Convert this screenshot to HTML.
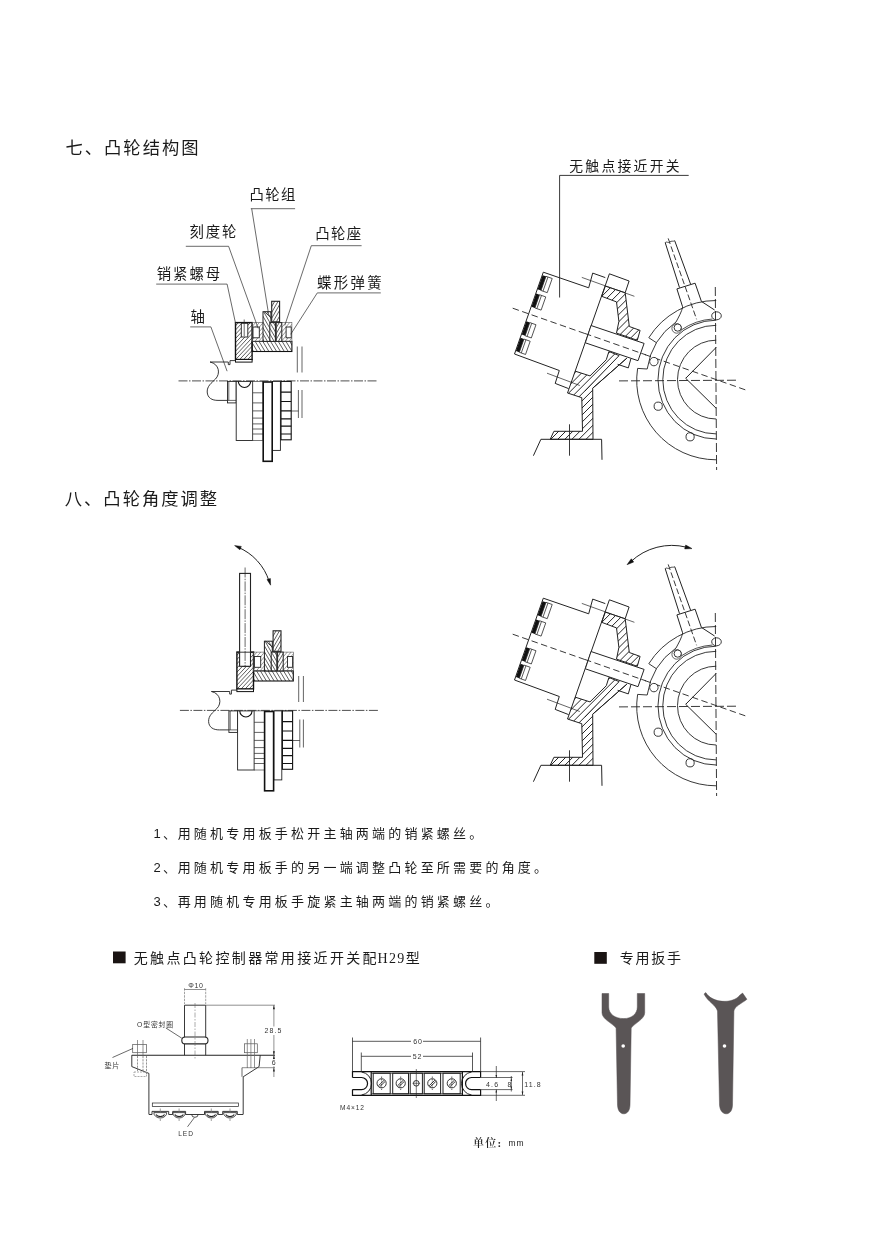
<!DOCTYPE html>
<html lang="zh">
<head>
<meta charset="utf-8">
<title>凸轮结构图</title>
<style>
html,body{margin:0;padding:0;background:#fff;}
body{width:880px;height:1243px;overflow:hidden;position:relative;}
svg{position:absolute;left:0;top:0;display:block;will-change:transform;}
text{font-family:"Liberation Sans","Noto Sans CJK SC",sans-serif;fill:#1a1a1a;}
.h1{font-size:17.3px;letter-spacing:2px;}
.lb{font-size:14.4px;letter-spacing:1.4px;}
.p{font-size:13px;letter-spacing:3.2px;}
.s{font-size:6.5px;letter-spacing:0.6px;fill:#333;}
.ln{stroke:#222;stroke-width:0.9;}
.th{stroke:#2a2a2a;stroke-width:0.7;}
.bd{stroke:#111;stroke-width:1.4;}
</style>
</head>
<body>
<svg width="880" height="1243" viewBox="0 0 880 1243" fill="none">
<defs>
</defs>

<!-- ===== headings ===== -->
<g id="headings">
<text class="h1" x="65.5" y="153.5">七、凸轮结构图</text>
<text class="h1" x="64.8" y="505">八、凸轮角度调整</text>
</g>

<!-- ===== instructions ===== -->
<g id="steps">
<text class="p" x="153.5" y="837.8">1<tspan dx="-1">、</tspan><tspan dx="-1.5">用</tspan>随机专用板手松开主轴两端的销紧螺丝。</text>
<text class="p" x="153.5" y="872">2<tspan dx="-1">、</tspan><tspan dx="-1.5">用</tspan>随机专用板手的另一端调整凸轮至所需要的角度。</text>
<text class="p" x="153.5" y="906">3<tspan dx="-1">、</tspan><tspan dx="-1.5">再</tspan>用随机专用板手旋紧主轴两端的销紧螺丝。</text>
</g>

<!--CAM1-->
<g id="camdef">
 <!-- centre line -->
 <line x1="178.5" y1="380.9" x2="378" y2="380.9" stroke="#222" stroke-width="0.8" stroke-dasharray="9 1.5 1.5 1.5"/>
 <!-- upper half section : locking nut -->
 <clipPath id="hc1"><rect x="235.5" y="322.6" width="16.6" height="36.9"/></clipPath><path clip-path="url(#hc1)" d="M213.0 341.4L242.0 310.3M215.1 343.3L244.1 312.3M217.3 345.3L246.2 314.3M219.4 347.3L248.3 316.2M221.5 349.3L250.5 318.2M223.6 351.3L252.6 320.2M225.7 353.2L254.7 322.2M227.9 355.2L256.8 324.2M230.0 357.2L258.9 326.1M232.1 359.2L261.1 328.1M234.2 361.1L263.2 330.1M236.3 363.1L265.3 332.1M238.5 365.1L267.4 334.0M240.6 367.1L269.5 336.0M242.7 369.1L271.7 338.0M244.8 371.0L273.8 340.0M246.9 373.0L275.9 342.0" stroke="#1a1a1a" stroke-width="0.7"/><rect x="235.5" y="322.6" width="16.6" height="36.9" class="bd"/>
 <rect x="235.5" y="359.5" width="16.6" height="2.6" fill="#fff" class="bd" style="stroke-width:1"/>
 <rect x="241.3" y="323.3" width="6.5" height="13.7" fill="#fff" class="ln"/>
 <line x1="244.2" y1="319.5" x2="244.2" y2="336" class="th"/>
 <!-- cam seat -->
 <clipPath id="hc2"><rect x="252.1" y="341.4" width="39.8" height="10.1"/></clipPath><path clip-path="url(#hc2)" d="M281.9 315.4L304.1 352.3M279.1 317.1L301.2 354.0M276.2 318.8L298.4 355.7M273.4 320.5L295.6 357.4M270.6 322.2L292.8 359.1M267.8 323.9L289.9 360.8M264.9 325.6L287.1 362.5M262.1 327.3L284.3 364.2M259.3 329.0L281.4 365.9M256.4 330.7L278.6 367.6M253.6 332.4L275.8 369.3M250.8 334.1L273.0 371.0M248.0 335.8L270.1 372.7M245.1 337.5L267.3 374.4M242.3 339.2L264.5 376.1" stroke="#1a1a1a" stroke-width="0.7"/><rect x="252.1" y="341.4" width="39.8" height="10.1" class="bd" style="stroke-width:1.1"/>
 <clipPath id="hc3"><rect x="252.1" y="322.6" width="39.8" height="18.8"/></clipPath><path clip-path="url(#hc3)" d="M238.5 333.9L268.0 298.6M240.7 335.8L270.3 300.5M242.9 337.6L272.5 302.4M245.1 339.5L274.7 304.2M247.4 341.4L276.9 306.1M249.6 343.2L279.2 308.0M251.8 345.1L281.4 309.8M254.0 346.9L283.6 311.7M256.2 348.8L285.8 313.6M258.5 350.7L288.0 315.4M260.7 352.5L290.3 317.3M262.9 354.4L292.5 319.2M265.1 356.3L294.7 321.0M267.3 358.1L296.9 322.9M269.6 360.0L299.1 324.7M271.8 361.9L301.4 326.6M274.0 363.7L303.6 328.5M276.2 365.6L305.8 330.3" stroke="#444" stroke-width="0.55"/><rect x="252.1" y="322.6" width="39.8" height="18.8" class="ln" style="stroke-width:0.6;stroke:#555"/>
 <rect x="253" y="327" width="6.3" height="10.8" fill="#fff" class="ln"/>
 <rect x="286.1" y="327" width="5.1" height="10.8" fill="#fff" class="ln"/>
 <!-- cams -->
 <rect x="263" y="311.7" width="7.9" height="29.7" fill="#fff"/>
 <clipPath id="hc4"><rect x="263" y="311.7" width="7.9" height="29.7"/></clipPath><path clip-path="url(#hc4)" d="M275.3 302.8L291.7 331.2M272.8 304.3L289.2 332.6M270.3 305.7L286.6 334.1M267.8 307.2L284.1 335.5M265.3 308.6L281.6 337.0M262.7 310.1L279.1 338.4M260.2 311.5L276.6 339.9M257.7 313.0L274.1 341.3M255.2 314.4L271.6 342.8M252.7 315.9L269.1 344.2M250.2 317.3L266.6 345.7M247.7 318.8L264.0 347.1M245.2 320.2L261.5 348.6M242.6 321.7L259.0 350.0" stroke="#1a1a1a" stroke-width="0.7"/><rect x="263" y="311.7" width="7.9" height="29.7" class="ln" style="stroke-width:1"/>
 <line x1="264.4" y1="311.7" x2="270.9" y2="317.5" class="ln"/>
 <rect x="271.7" y="301.3" width="7.9" height="20.5" fill="#fff"/>
 <clipPath id="hc5"><rect x="271.7" y="301.3" width="7.9" height="20.5"/></clipPath><path clip-path="url(#hc5)" d="M257.0 314.6L269.0 293.9M259.5 316.1L271.5 295.3M262.0 317.5L274.0 296.8M264.6 319.0L276.5 298.2M267.1 320.4L279.0 299.7M269.6 321.9L281.6 301.1M272.1 323.3L284.1 302.6M274.6 324.8L286.6 304.0M277.1 326.2L289.1 305.5M279.6 327.7L291.6 306.9M282.1 329.1L294.1 308.4" stroke="#1a1a1a" stroke-width="0.7"/><rect x="271.7" y="301.3" width="7.9" height="20.5" class="ln" style="stroke-width:1.1"/>
 <rect x="269.8" y="322.6" width="5.6" height="18.8" fill="#fff"/>
 <clipPath id="hc6"><rect x="269.8" y="322.6" width="5.6" height="18.8"/></clipPath><path clip-path="url(#hc6)" d="M276.8 317.1L287.6 335.8M274.3 318.5L285.1 337.2M271.8 320.0L282.6 338.7M269.3 321.4L280.1 340.1M266.8 322.9L277.6 341.6M264.3 324.3L275.1 343.0M261.8 325.8L272.6 344.5M259.2 327.2L270.1 345.9M256.7 328.7L267.5 347.4" stroke="#1a1a1a" stroke-width="0.7"/><rect x="269.8" y="322.6" width="5.6" height="18.8" class="ln" style="stroke-width:1"/>
 <rect x="276.2" y="322.6" width="5.6" height="18.8" fill="#fff"/>
 <clipPath id="hc7"><rect x="276.2" y="322.6" width="5.6" height="18.8"/></clipPath><path clip-path="url(#hc7)" d="M262.1 334.7L273.0 316.0M264.7 336.2L275.5 317.5M267.2 337.6L278.0 318.9M269.7 339.1L280.5 320.4M272.2 340.5L283.0 321.8M274.7 342.0L285.5 323.3M277.2 343.4L288.0 324.7M279.7 344.9L290.5 326.2M282.2 346.3L293.0 327.6M284.7 347.8L295.6 329.1" stroke="#1a1a1a" stroke-width="0.7"/><rect x="276.2" y="322.6" width="5.6" height="18.8" class="ln" style="stroke-width:1"/>
 <!-- double lines right -->
 <path d="M297.3 346.5V372.5M302 346.5V372.5M298.4 390V418M302 390V418M291.2 411H298.4" class="ln" style="stroke-width:0.7"/>
 <!-- shaft with break line -->
 <path d="M210 362H228.3V364.6H230V360.6H235.5" class="ln"/>
 <path d="M210 362C219.5 364 220.5 374 215.5 379C211.5 383 207 386 207.2 392C207.5 398 212 400.4 218 400.4H227.5" class="ln"/>
 <!-- lower half : outside view -->
 <rect x="227.5" y="381.4" width="8.7" height="21.5" fill="#fff" class="ln"/>
 <line x1="228.8" y1="381.4" x2="228.8" y2="400.4" class="th"/>
 <line x1="227.5" y1="400.4" x2="236.2" y2="400.4" class="th"/>
 <rect x="236.2" y="381.4" width="16.6" height="59.1" fill="#fff" class="ln"/>
 <path d="M238.4 381.4A6 6 0 0 0 250.6 381.4" class="bd" style="stroke-width:1.1"/>
 <rect x="252.8" y="381.4" width="10.2" height="59.1" fill="#fff" class="ln" style="stroke-width:0.6"/>
 <path d="M252.8 392.8H263M252.8 402.9H263M252.8 410.9H263M252.8 418.1H263M252.8 423.9H263M252.8 429H263M252.8 434H263" class="ln" style="stroke-width:0.7"/>
 <rect x="272.4" y="381.4" width="8" height="69" fill="#fff" class="ln"/>
 <rect x="263.2" y="382" width="9" height="79.3" fill="#fff" class="bd" style="stroke-width:1.6"/>
 <rect x="281" y="381.4" width="10.2" height="58.4" fill="#fff" class="bd" style="stroke-width:1.1"/>
 <path d="M281 392.1H291.2M281 401.5H291.2M281 410.9H291.2M281 418.8H291.2M281 426.1H291.2M281 434H291.2" class="bd" style="stroke-width:1.2"/>
</g>
<g id="cam1labels">
 <text class="lb" x="249.5" y="200">凸轮组</text>
 <path d="M250.8 208.7H295.1M251.7 208.7L268.5 313.6" class="th"/>
 <text class="lb" x="189.6" y="237" style="letter-spacing:1.8px">刻度轮</text>
 <path d="M185.8 246.3H228.6L258.2 328.4" class="th"/>
 <text class="lb" x="315.2" y="239">凸轮座</text>
 <path d="M361.6 245.7H311.3L284.8 325.4" class="th"/>
 <text class="lb" x="156.8" y="279.3" style="letter-spacing:1.9px">销紧螺母</text>
 <path d="M156.2 284.1H227.1L236 325.4" class="th"/>
 <text class="lb" x="317" y="288.3" style="letter-spacing:2.4px">蝶形弹簧</text>
 <path d="M380.8 292.9H317.3L290.7 334.3" class="th"/>
 <text class="lb" x="190.5" y="321.8">轴</text>
 <path d="M190.2 326.9H210.9L227.1 371.2" class="th"/>
</g>
<!--/CAM1-->
<!--SWITCH1-->
<g id="swdef">
 <!-- dash-dot axes -->
 <path d="M512.7 308.2L745.5 389.9" class="ln" stroke-dasharray="6.5 3.5"/>
 <path d="M715.3 287L716.6 470" class="ln" stroke-dasharray="9 3"/>
 <path d="M619 380.9L739 380.2" class="ln" stroke-dasharray="9 3"/>
 <!-- proximity switch body -->
 <path d="M514.5 354L543.3 272.2L588.7 287.8L592.7 273.1L605.3 277.6" class="ln" style="stroke-width:1"/>
 <path d="M514.5 354L559.3 370.5L555.2 383.4L568.6 388.6" class="ln" style="stroke-width:1"/>
 <path d="M609.4 273.8L567.5 393" class="ln" style="stroke-width:1"/>
 <path d="M581.8 277.4L634.4 296.3M547 373.2L579.8 385.5" class="ln" style="stroke-width:0.7"/>
 <!-- LED windows on the sensing face -->
 <g transform="translate(543.3 272.2) rotate(19.35)">
  <rect x="0.3" y="3" width="3.6" height="15" fill="#111"/><rect x="3.9" y="3" width="6.6" height="15" class="ln" style="stroke-width:0.7"/><line x1="6" y1="3" x2="6" y2="18" class="th"/>
  <rect x="0.3" y="22.5" width="3.6" height="14" fill="#111"/><rect x="3.9" y="22.5" width="6.6" height="14" class="ln" style="stroke-width:0.7"/><line x1="6" y1="22.5" x2="6" y2="36.5" class="th"/>
  <rect x="0.3" y="52" width="3.6" height="14" fill="#111"/><rect x="3.9" y="52" width="6.6" height="14" class="ln" style="stroke-width:0.7"/><line x1="6" y1="52" x2="6" y2="66" class="th"/>
  <rect x="0.3" y="69.5" width="3.6" height="14" fill="#111"/><rect x="3.9" y="69.5" width="6.6" height="14" class="ln" style="stroke-width:0.7"/><line x1="6" y1="69.5" x2="6" y2="83.5" class="th"/>
 </g>
 <!-- bolt head -->
 <path d="M609.4 273.8L629.1 281L625.2 292.7" class="ln" style="stroke-width:1"/>
 <!-- bracket upper (section) -->
 <clipPath id="hc8"><path d="M601.7 296.3L605.3 286.1L625.2 292.7L629.3 326.5L640.1 330.4L637.3 340.3L616.5 333.1L618.9 321.4L616.5 301.9Z"/></clipPath><path clip-path="url(#hc8)" d="M571.6 312.3L620.0 263.9M575.1 315.8L623.5 267.4M578.7 319.4L627.1 271.0M582.2 322.9L630.6 274.5M585.7 326.4L634.1 278.0M589.3 330.0L637.7 281.6M592.8 333.5L641.2 285.1M596.3 337.0L644.7 288.6M599.9 340.6L648.3 292.2M603.4 344.1L651.8 295.7M607.0 347.6L655.3 299.3M610.5 351.2L658.9 302.8M614.0 354.7L662.4 306.3M617.6 358.2L665.9 309.9M621.1 361.8L669.5 313.4" stroke="#1a1a1a" stroke-width="0.95"/><path d="M601.7 296.3L605.3 286.1L625.2 292.7L629.3 326.5L640.1 330.4L637.3 340.3L616.5 333.1L618.9 321.4L616.5 301.9Z" class="ln" style="stroke-width:1"/>
 <!-- sensor nose -->
 <path d="M591 325.5L644.1 343.4L638 360.7L585.3 342.8Z" fill="#fff" class="ln" style="stroke-width:1"/>
 <path d="M585 333.5L646 354.9" class="ln" stroke-dasharray="6.5 3.5"/>
 <!-- bracket lower (section) -->
 <path d="M575 371.1L590 375.9L606.3 359.7L608.9 351.5L619.1 355.6L584.5 391.5M626.8 358.2L592.7 388.2" class="ln" style="stroke-width:1"/>
 <clipPath id="hc9"><path d="M575 371.1L590 375.9L606.3 359.7L608.9 351.5L619.1 355.6L584.5 391.5L581.8 397.7L567.5 393Z"/></clipPath><path clip-path="url(#hc9)" d="M540.2 371.9L590.6 321.5M543.8 375.5L594.2 325.1M547.3 379.0L597.7 328.6M550.8 382.5L601.2 332.1M554.4 386.1L604.8 335.7M557.9 389.6L608.3 339.2M561.5 393.1L611.8 342.8M565.0 396.7L615.4 346.3M568.5 400.2L618.9 349.8M572.1 403.7L622.4 353.4M575.6 407.3L626.0 356.9M579.1 410.8L629.5 360.4M582.7 414.4L633.1 364.0M586.2 417.9L636.6 367.5M589.7 421.4L640.1 371.0M593.3 425.0L643.7 374.6M596.8 428.5L647.2 378.1" stroke="#1a1a1a" stroke-width="0.95"/>
 <path d="M626.8 358.2L592.7 388.2L593 439.3H550.2L553.9 431.3H582.5L581.8 397.7L567.5 393" class="ln" style="stroke-width:1"/>
 <clipPath id="hc10"><path d="M584.5 391.5L592.7 388.2L593 439.3H550.2L553.9 431.3H582.5L581.8 397.7Z"/></clipPath><path clip-path="url(#hc10)" d="M329.9 483.3L510.1 303.1M333.4 486.8L513.6 306.6M337.0 490.3L517.1 310.2M340.5 493.9L520.7 313.7M344.0 497.4L524.2 317.2M347.6 500.9L527.7 320.8M351.1 504.5L531.3 324.3M354.7 508.0L534.8 327.9M358.2 511.6L538.4 331.4M361.7 515.1L541.9 334.9M365.3 518.6L545.4 338.5M368.8 522.2L549.0 342.0M372.3 525.7L552.5 345.5M375.9 529.2L556.0 349.1M379.4 532.8L559.6 352.6M382.9 536.3L563.1 356.1M386.5 539.8L566.6 359.7M390.0 543.4L570.2 363.2M393.5 546.9L573.7 366.7M397.1 550.4L577.2 370.3M400.6 554.0L580.8 373.8M404.2 557.5L584.3 377.4M407.7 561.0L587.8 380.9M411.2 564.6L591.4 384.4M414.8 568.1L594.9 388.0M418.3 571.7L598.5 391.5M421.8 575.2L602.0 395.0M425.4 578.7L605.5 398.6M428.9 582.3L609.1 402.1M432.4 585.8L612.6 405.6M436.0 589.3L616.1 409.2M439.5 592.9L619.7 412.7M443.0 596.4L623.2 416.2M446.6 599.9L626.7 419.8M450.1 603.5L630.3 423.3M453.7 607.0L633.8 426.9M457.2 610.5L637.3 430.4M460.7 614.1L640.9 433.9M464.3 617.6L644.4 437.5M467.8 621.2L648.0 441.0M471.3 624.7L651.5 444.5M474.9 628.2L655.0 448.1M478.4 631.8L658.6 451.6M481.9 635.3L662.1 455.1M485.5 638.8L665.6 458.7M489.0 642.4L669.2 462.2M492.5 645.9L672.7 465.7M496.1 649.4L676.2 469.3M499.6 653.0L679.8 472.8M503.1 656.5L683.3 476.3M506.7 660.0L686.8 479.9M510.2 663.6L690.4 483.4M513.8 667.1L693.9 487.0" stroke="#1a1a1a" stroke-width="0.95"/>
 <path d="M630.9 358.7L628.3 367.9L617.6 364.3" class="ln" style="stroke-width:1"/>
 <!-- base -->
 <path d="M533.4 455.7L540.9 439.3H601.6L602 459.8" class="ln" style="stroke-width:1"/>
 <path d="M569.5 424.3V455.7" class="ln"/>
 <!-- cam disc / flange -->
 <path d="M716.2 459.8A79.5 79.5 0 0 1 637.6 368.4L647.2 369A70 70 0 0 1 676 322" class="ln"/>
 <path d="M716.2 439A58.2 59.4 0 0 1 716.2 320.2" class="ln"/>
 <path d="M716.2 433.9A53.4 54.3 0 0 1 716.2 325.3" class="ln"/>
 <path d="M716.2 419A38.7 39.4 0 0 1 716.2 340.2" class="ln"/>
 <path d="M716.2 347.4L685.7 378.3L716.2 408.3" class="ln" style="stroke-width:1"/>
 <!-- moving cam plate -->
 <path d="M716.2 300.5A79.7 79.7 0 0 0 648.8 337.7L656.7 342.9M676 322C679 316.5 681.5 312 682.7 307" class="ln"/>
 <path d="M681.5 329.8A62 62 0 0 1 712.5 319" class="ln" style="stroke-width:0.8"/>
 <circle cx="653.9" cy="361.6" r="4.2" fill="#fff" class="ln"/>
 <circle cx="676.7" cy="328.4" r="4.8" class="ln" style="stroke-width:0.7"/>
 <circle cx="677.7" cy="327.6" r="3.6" fill="#fff" class="ln"/>
 <ellipse cx="716.5" cy="315.8" rx="4.8" ry="4" class="ln"/>
 <circle cx="658.2" cy="406.2" r="4.1" class="ln"/>
 <circle cx="690.1" cy="436.8" r="4.1" class="ln"/>
 <!-- cable gland -->
 <path d="M665.2 242.6L679.5 287.6M674.7 240.7L690.6 284.2" class="ln" style="stroke-width:1"/>
 <path d="M665.2 242.6C666.5 241 668 243.5 669.8 242C671.5 240.5 673 241.8 674.7 240.7" class="ln" style="stroke-width:0.8"/>
 <path d="M682.6 306.8L676.9 288.9L695.1 283.2L701.4 301.4L714.6 310" class="ln" style="stroke-width:1"/>
 <path d="M668.2 238.4L696.6 319.3" class="ln" stroke-dasharray="6 2.5" style="stroke-width:0.9"/>
</g>
<g id="sw1label">
 <text class="lb" x="569.2" y="170.6" style="font-size:13.8px;letter-spacing:2.3px">无触点接近开关</text>
 <path d="M688.7 175.4H559.6V297.5" class="ln" style="stroke-width:0.9"/>
</g>
<!--/SWITCH1-->
<!--CAM2-->
<g id="cam2">
 <use href="#camdef" transform="translate(1.4 329.5)"/>
 <!-- wrench pin inserted in the locking nut -->
 <rect x="239.6" y="573.4" width="10.9" height="92.9" fill="#fff" class="ln" style="stroke-width:1.1"/>
 <path d="M245.1 567.5V666" class="th" stroke-dasharray="10 1.2 1.5 1.2"/>
 <path d="M236.9 652.2H254.2" class="ln"/>
 <!-- rotation arrow -->
 <path d="M237.5 547A55 55 0 0 1 269.2 581.5" class="ln" style="stroke-width:1"/>
 <path d="M234.6 545.6L241.3 546.4L239.9 549.8ZM270.6 585.2L267 579.5L270.4 578.5Z" fill="#111" stroke="#111" stroke-width="0.5"/>
</g>
<!--/CAM2-->
<!--SWITCH2-->
<g id="sw2">
 <use href="#swdef" transform="translate(0 326)"/>
 <path d="M631 561.5A60 60 0 0 1 686.5 547.2" class="ln" style="stroke-width:1"/>
 <path d="M627 564.7L631.3 558.8L633.7 562ZM692 548.6L684.7 548.9L685.7 545Z" fill="#111" stroke="#111" stroke-width="0.5"/>
</g>
<!--/SWITCH2-->
<!--BOTTOM-->
<g id="bottom">
 <!-- headings -->
 <rect x="113" y="951.5" width="12.6" height="11.8" fill="#1a1413"/>
 <text x="133.7" y="963" style="font-size:14px;letter-spacing:2.35px">无触点凸轮控制器常用接近开关配<tspan style="font-family:'Liberation Serif',serif;letter-spacing:1.4px" dx="-1.5">H29</tspan>型</text>
 <rect x="594.3" y="952" width="12.5" height="11.8" fill="#1a1413"/>
 <text x="619.8" y="963.2" style="font-size:14px;letter-spacing:1.7px">专用扳手</text>

 <!-- proximity switch H29 outline drawing -->
 <g id="h29">
  <path d="M131.8 1055.2H275" class="ln" style="stroke-width:1.1"/>
  <path d="M184.5 1055.2V1005.2H205.7V1055.2" class="ln"/>
  <rect x="181.8" y="1037" width="26.2" height="6.9" rx="3.4" fill="#fff" class="ln" style="stroke-width:1.1"/>
  <path d="M195 1003V1059" class="th" style="stroke:#666;stroke-width:0.55" stroke-dasharray="5 1.5 1.5 1.5"/>
  <path d="M131.8 1055.2V1066.6L148.9 1073.4V1114.3M260.2 1055.2L259.1 1066.6L243.2 1076.8V1114.3" class="ln"/>
  <path d="M148.9 1114.5H152V1111.4H168.7V1114.5H172.7V1111.4H185.6V1114.5H204.5V1111.4H218.2V1114.5H222.7V1111.4H237.3V1114.5H243.2" class="ln"/>
  <path d="M153.8 1112.6A6.5 5.4 0 0 0 166.8 1112.6ZM172.8 1112.6A6.3 5.4 0 0 0 185.4 1112.6ZM205 1112.6A6.3 5.4 0 0 0 217.6 1112.6ZM223.5 1112.6A6.5 5.4 0 0 0 236.5 1112.6Z" fill="#fff" class="ln" style="stroke-width:0.8"/>
  <path d="M156 1114.6A4.6 3.2 0 0 0 164.6 1114.6M174.8 1114.6A4.6 3.2 0 0 0 183.4 1114.6M207 1114.6A4.6 3.2 0 0 0 215.6 1114.6M225.7 1114.6A4.6 3.2 0 0 0 234.3 1114.6" class="ln" style="stroke-width:1.1"/>
  <path d="M191.7 1114.5A3.2 2.8 0 0 0 198.1 1114.5" class="ln" style="stroke-width:0.8"/>
  <path d="M160.3 1108.5V1113M179.1 1108.5V1113M211.3 1108.5V1113M230 1108.5V1113M160.3 1119V1121M179.1 1119V1121M211.3 1119V1121M230 1119V1121" class="th" style="stroke:#777"/>
  <rect x="152.3" y="1103" width="86.3" height="3.4" class="ln" style="stroke-width:0.7"/>
  <!-- bolts -->
  <rect x="132.7" y="1044.5" width="13.7" height="8.2" class="ln" style="stroke-width:0.7;stroke:#555"/>
  <rect x="244.5" y="1043.8" width="12.8" height="8.9" class="ln" style="stroke-width:0.7;stroke:#555"/>
  <path d="M137.5 1040V1055M143 1040V1055M247.3 1039V1068M250.9 1039V1068M254.5 1039V1068" class="th" style="stroke:#666"/>
  <path d="M137.5 1056V1072M143 1056V1072M146.5 1056V1074" class="th" style="stroke:#666" stroke-dasharray="2.2 1"/>
  <path d="M134 1072H146.5V1076.5H134Z" class="th" style="stroke:#888" stroke-dasharray="2 1"/>
  <path d="M242 1067.7V1076.8" class="th"/>
  <!-- dimensions -->
  <path d="M184.5 988.2V1004M205.7 988.2V1004" class="th" style="stroke:#555;stroke-width:0.55" stroke-dasharray="2.5 1"/><path d="M184.5 989.5H205.7" class="th" style="stroke:#444;stroke-width:0.6"/>
  <path d="M205.7 1005.2H275M242 1067.7H275M273.9 1005.2V1077" class="th" style="stroke:#444;stroke-width:0.6"/>
  <path d="M273.9 1055.2L272.9 1051.2H274.9ZM273.9 1005.2L272.9 1009.2H274.9ZM273.9 1055.2L272.9 1059H274.9ZM273.9 1067.7L272.9 1071.5H274.9Z" fill="#222" stroke="none"/>
  <text class="s" x="188.3" y="987.6" style="font-size:7px">Φ10</text>
  <rect x="263.5" y="1026.5" width="19.5" height="8.5" fill="#fff"/><rect x="270.5" y="1059.3" width="7" height="7" fill="#fff"/>
  <text class="s" x="264.5" y="1033.4" style="font-size:7px;letter-spacing:1.1px">28.5</text>
  <text class="s" x="271.8" y="1065.2" style="font-size:7px">6</text>
  <text class="s" x="137" y="1026.8" style="font-size:6.8px;letter-spacing:0.9px">O型密封圈</text>
  <path d="M165.9 1028L181.8 1038.2" class="th"/>
  <text class="s" x="104.5" y="1067.8" style="font-size:7px;letter-spacing:0.8px">垫片</text>
  <path d="M112.5 1057.5L133 1048.4" class="th"/>
  <text class="s" x="178.2" y="1135.6" style="font-size:6.6px;letter-spacing:1px">LED</text>
  <path d="M187.5 1126.8L194.3 1117.7" class="th"/>
 </g>

 <!-- terminal block -->
 <g id="terminal">
  <path d="M352.5 1077.5V1071.6H480.6V1077.5M352.5 1089.6V1095.3H480.6V1089.6" class="bd" style="stroke-width:1.2"/>
  <path d="M352.5 1077.5H361.5A6 6 0 0 1 361.5 1089.6H352.5M480.6 1077.5H471.6A6 6 0 0 0 471.6 1089.6H480.6" class="bd" style="stroke-width:1.2"/>
  <path d="M361.5 1072A11.6 11.6 0 0 1 361.5 1095M471.6 1072A11.6 11.6 0 0 0 471.6 1095" class="ln" style="stroke-width:1"/>
  <path d="M371.2 1071.6V1095.3M462.4 1071.6V1095.3" class="bd" style="stroke-width:1.2"/>
  <path d="M371.2 1073.2H462.4M371.2 1093.8H462.4" class="ln" style="stroke-width:0.8"/>
  <rect x="373.2" y="1073.2" width="17" height="20.6" class="ln" style="stroke-width:1"/>
  <rect x="392.7" y="1073.2" width="15.8" height="20.6" class="ln" style="stroke-width:1"/>
  <rect x="410.2" y="1073.2" width="12.2" height="20.6" class="ln" style="stroke-width:1"/>
  <rect x="424.2" y="1073.2" width="16.4" height="20.6" class="ln" style="stroke-width:1"/>
  <rect x="443" y="1073.2" width="17.2" height="20.6" class="ln" style="stroke-width:1"/>
  <g class="ln" style="stroke-width:0.9">
   <circle cx="381.6" cy="1083.3" r="4.6"/><path d="M378.4 1085.8L384.2 1080.2M379.4 1087L385.2 1081.4"/>
   <circle cx="400.7" cy="1083.3" r="4.6"/><path d="M397.5 1085.8L403.3 1080.2M398.5 1087L404.3 1081.4"/>
   <circle cx="432.3" cy="1083.3" r="4.6"/><path d="M429.1 1085.8L434.9 1080.2M430.1 1087L435.9 1081.4"/>
   <circle cx="451.8" cy="1083.3" r="4.6"/><path d="M448.6 1085.8L454.4 1080.2M449.6 1087L455.4 1081.4"/>
   <circle cx="416.3" cy="1083.3" r="2.8"/><path d="M416.3 1069V1098M412.5 1083.3H420.1" style="stroke-width:0.6"/>
  </g>
  <path d="M381.6 1076.5V1090M400.7 1076.5V1090M432.3 1076.5V1090M451.8 1076.5V1090" class="th" stroke-dasharray="1.5 1"/>
  <!-- dims -->
  <path d="M352.5 1037.5V1072M480.6 1037.5V1072M352.5 1041.3H411M423 1041.3H480.6" class="ln" style="stroke-width:0.75"/>
  <path d="M361.3 1052.5V1072M472.5 1052.5V1072M361.3 1056.3H411M423 1056.3H472.5" class="ln" style="stroke-width:0.75"/>
  <text class="s" x="413.2" y="1043.8" style="font-size:7px;letter-spacing:0.8px">60</text>
  <text class="s" x="412.8" y="1058.8" style="font-size:7px;letter-spacing:0.8px">52</text>
  <path d="M480.6 1071.6H525M480.6 1095.3H525M480.6 1077.5H512.5M480.6 1089.6H512.5M496.3 1066V1078M496.3 1089.5V1101M511.3 1076V1091.5M522.5 1072V1095" class="th"/>
  <path d="M522.5 1072L521.6 1075.5H523.4ZM522.5 1095L521.6 1091.5H523.4ZM511.3 1078L510.5 1081H512.1ZM511.3 1089.5L510.5 1086.5H512.1ZM496.3 1078L495.5 1075H497.1ZM496.3 1089.5L495.5 1092.5H497.1Z" fill="#222" stroke="none"/>
  <text class="s" x="486" y="1087" style="font-size:7px;letter-spacing:1.2px">4.6</text>
  <text class="s" x="507.6" y="1087" style="font-size:7px">8</text>
  <text class="s" x="524.3" y="1087" style="font-size:7px;letter-spacing:1.1px">11.8</text>
  <text class="s" x="340" y="1109.6" style="font-size:6.6px;letter-spacing:0.9px">M4×12</text>
 </g>
 <text x="473" y="1146.5" style="font-family:'Liberation Serif','Noto Serif CJK SC',serif;font-size:11px;font-weight:600;letter-spacing:1.2px;fill:#222">单位:</text>
 <text x="508.5" y="1146" style="font-size:8.5px;letter-spacing:1px;fill:#222">mm</text>

 <!-- wrenches -->
 <g id="wrenches" fill="#5a5556" stroke="#544f50" stroke-width="0.5">
  <path d="M602 993.5H608.7V1007C608.7 1014 615 1018.6 623.8 1018.6C631.5 1018.6 637.3 1014 637.3 1007V993.5H644.7V1012.8C644.7 1019 635 1023 631.2 1028L630 1105C629.8 1111 627 1113.8 623.8 1113.8C620.5 1113.8 617.8 1111 617.5 1105L616.1 1028C612 1023 602 1019 602 1012.8Z"/>
  <path d="M704 994L705.8 992.6C712 1003.3 733 1004.2 739.7 995.3L742.6 993.1L746.9 999.3C741 1004 735 1006 733.9 1011L732.5 1105C732.3 1111 729.5 1113.8 726.3 1113.8C723 1113.8 720 1111 719.5 1105L717.5 1011C716 1005 708 1002 704 994Z"/>
  <circle cx="623.2" cy="1046" r="1.8" fill="#fff" stroke="none"/>
  <circle cx="724.5" cy="1046" r="1.8" fill="#fff" stroke="none"/>
 </g>
</g>
<!--/BOTTOM-->
</svg>
</body>
</html>
